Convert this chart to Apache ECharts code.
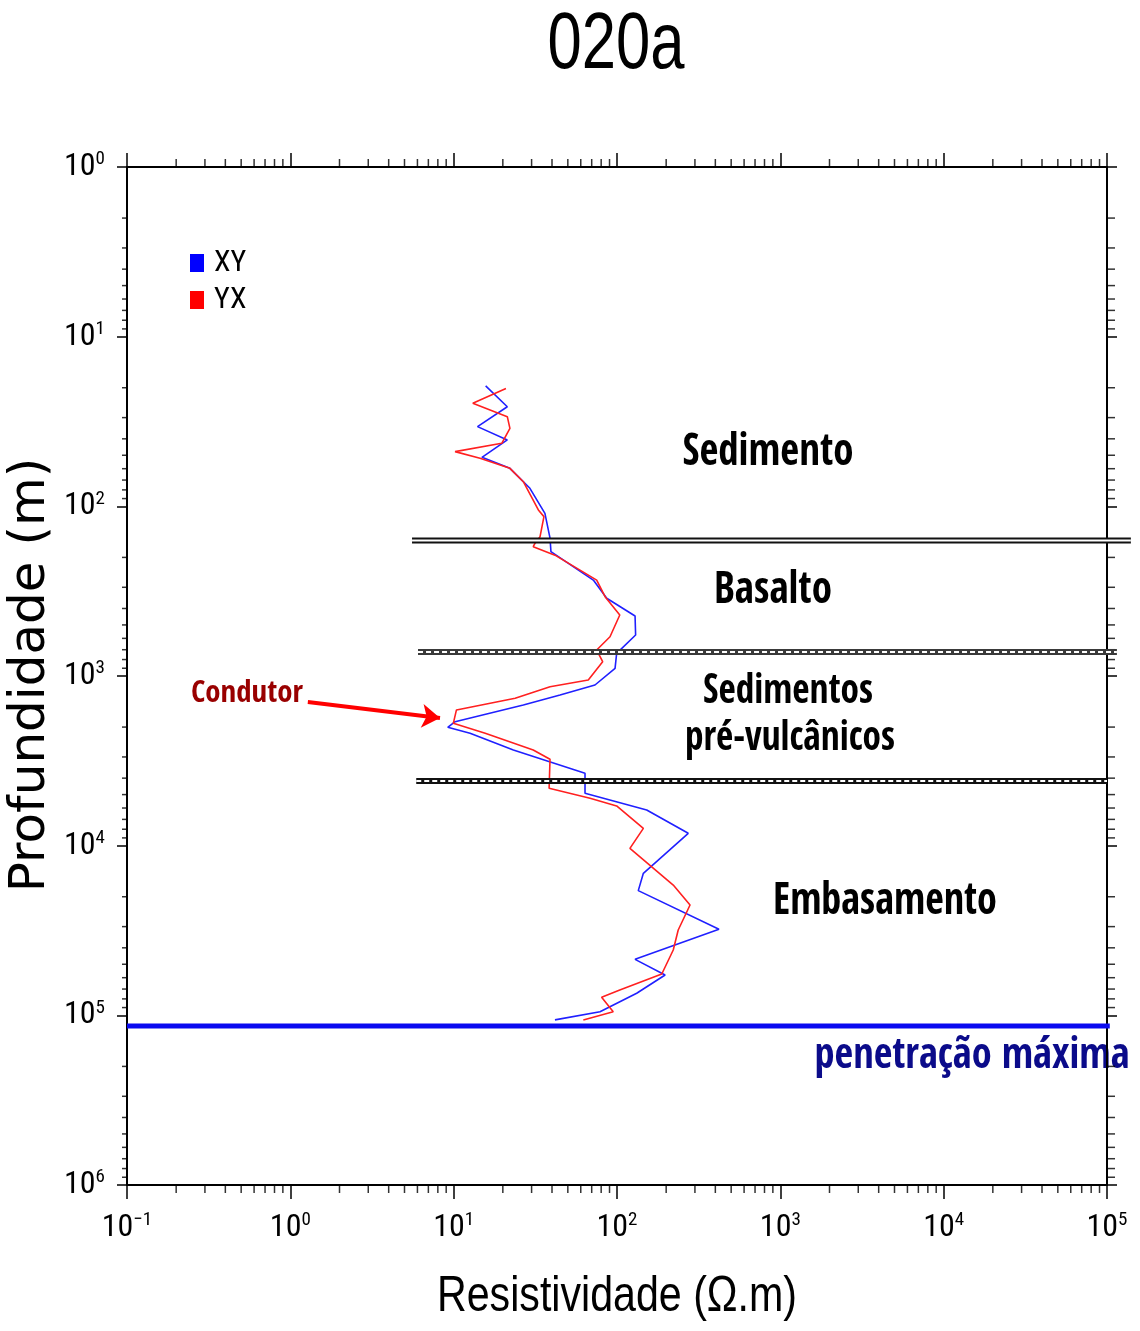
<!DOCTYPE html>
<html>
<head>
<meta charset="utf-8">
<script src="https://cdn.jsdelivr.net/npm/echarts@6/dist/echarts.min.js"></script>
<style>
html,body{margin:0;padding:0;background:#fff;}
#chart{width:1140px;height:1331px;}
</style>
</head>
<body>
<div id="chart"></div>
<script>
// ---------- DATA ----------
// XY curve: [resistivity (ohm.m), depth (m)]
const xyRes   = [15.7, 21.3, 14.0, 21.3, 14.9, 22.1, 29.3, 36.2, 38.9, 39.4, 71.6, 86.5, 129, 130, 99.5, 97.3, 73.3, 44.8, 26.7, 10.2, 9.2, 12.6, 23.2, 63.7, 63.7, 152, 273, 145, 135, 421, 129, 197, 132, 78.7, 41.7];
const xyDepth = [19.5, 25.9, 33.9, 40.6, 51.4, 59.7, 78.3, 110, 154, 185, 272, 348, 443, 573, 735, 901, 1130, 1294, 1482, 1859, 2006, 2177, 2730, 3745, 4913, 6166, 8453, 14550, 18410, 31120, 46770, 57810, 74130, 95270, 106400];
// YX curve
const yxRes   = [20.9, 13.1, 21.3, 22.1, 19.7, 10.2, 14.5, 22.1, 26.7, 33.0, 35.7, 33.8, 31.5, 30.7, 41.7, 75.1, 84.5, 104, 90.6, 75.1, 81.7, 66.7, 38.9, 23.8, 10.4, 9.95, 15.6, 30.7, 38.9, 38.4, 68.4, 99.5, 145, 120, 221, 280, 237, 221, 188, 104, 80.5, 94.8, 62.2];
const yxDepth = [20.2, 24.7, 29.6, 34.7, 42.5, 47.6, 52.1, 59.7, 71.6, 105, 115, 151, 165, 173, 194, 272, 341, 437, 587, 703, 824, 1056, 1156, 1353, 1585, 1901, 2177, 2730, 3097, 4592, 5260, 5834, 7907, 10370, 17060, 22380, 31410, 41200, 57050, 70950, 78310, 95270, 106400];

// Layer boundaries (depth, m) and their horizontal extent (ohm.m)
const boundaryDepths = [159, 722, 4157];
const boundaryStart  = [5.56, 6.05, 5.9];
const boundaryEnd    = [140000, 115000, 100000];
const boundaryKind   = [0, 1, 2];   // 0 = double line, 1/2 = dashed rail line
// Maximum penetration line
const penetrationDepth = 115600;
const penetrationRange = [0.1, 104000];
// Conductor arrow [resistivity, depth]
const arrowFrom = [1.28, 1423];
const arrowTo   = [8.25, 1769];

// Axes
const xMin = 0.1, xMax = 1e5;
const yMin = 1, yMax = 1e6;
const seriesNames = ['XY', 'YX'];

// ---------- CHART ----------
const SANS = '"Liberation Sans", Arial, Helvetica, sans-serif';
const COND = '"Roboto Condensed", "Liberation Sans", sans-serif';
const BOLDC = '"Open Sans Condensed", "DejaVu Sans Condensed", sans-serif';
const chart = echarts.init(document.getElementById('chart'), null, {renderer: 'canvas'});

function pow10Label(v) {
  const e = Math.round(Math.log10(v));
  const es = e < 0 ? '\u2212' + Math.abs(e) : String(e);
  return '{b|10}{s|' + es + '}';
}
const richLbl = {
  b: {fontSize: 32, fontFamily: COND, color: '#000'},
  s: {fontSize: 19, fontFamily: COND, color: '#000', padding: [0, 0, 15, 0]}
};

// minor tick positions
const minorX = [], minorY = [];
for (let k = -1; k < 5; k++) for (let m = 2; m <= 9; m++) minorX.push(m * Math.pow(10, k));
for (let k = 0; k < 6; k++) for (let m = 2; m <= 9; m++) minorY.push(m * Math.pow(10, k));

function tickSeries(data, size, offset) {
  return {
    type: 'scatter', silent: true, clip: false, symbol: 'rect',
    symbolSize: size, symbolOffset: offset,
    itemStyle: {color: '#000'}, data: data, z: 5, animation: false
  };
}

function zip(a, b) { return a.map((v, i) => [v, b[i]]); }

const series = [
  {
    name: seriesNames[0], type: 'line', data: zip(xyRes, xyDepth),
    showSymbol: false, symbol: 'none', lineStyle: {color: '#2020ff', width: 1.6},
    itemStyle: {color: '#0000ff'}, z: 3, animation: false
  },
  {
    name: seriesNames[1], type: 'line', data: zip(yxRes, yxDepth),
    showSymbol: false, symbol: 'none', lineStyle: {color: '#ff2020', width: 1.6},
    itemStyle: {color: '#ff0000'}, z: 3, animation: false
  }
];

// boundary lines (custom series, may extend past the right frame)
series.push({
  type: 'custom', silent: true, clip: false, animation: false, z: 6,
  data: boundaryDepths.map((d, i) => [boundaryStart[i], boundaryEnd[i], d, boundaryKind[i]]),
  renderItem: function (params, api) {
    const x1 = api.value(0), x2 = api.value(1), d = api.value(2), kind = api.value(3);
    const p1 = api.coord([x1, d]);
    const pa = api.coord([xMax / 10, d]), pb = api.coord([xMax, d]);
    const ex = x2 <= xMax ? api.coord([x2, d])[0] : pb[0] + (pb[0] - pa[0]) * Math.log10(x2 / xMax);
    const shape = {x1: p1[0], y1: p1[1], x2: ex, y2: p1[1]};
    return {
      type: 'group',
      children: [
        {type: 'line', shape: shape, style: {stroke: kind === 1 ? '#3a3a3a' : '#111', lineWidth: 6}},
        {type: 'line', shape: shape, style: {stroke: '#fff', lineWidth: kind === 0 ? 1.8 : 2, lineDash: kind === 0 ? null : [5, 3]}}
      ]
    };
  }
});

// penetration line
series.push({
  type: 'line', data: [[penetrationRange[0], penetrationDepth], [penetrationRange[1], penetrationDepth]],
  symbol: 'none', clip: false, silent: true, animation: false,
  lineStyle: {color: '#0a0af0', width: 5}, z: 6
});

// arrow
series.push({
  type: 'line', data: [], silent: true, animation: false,
  markLine: {
    silent: true, animation: false,
    symbol: ['none', 'arrow'], symbolSize: 18,
    label: {show: false},
    lineStyle: {color: '#ff0000', width: 4, type: 'solid'},
    data: [[{coord: arrowFrom}, {coord: arrowTo}]]
  }
});

// minor ticks
series.push(tickSeries(minorX.map(v => [v, yMax]), [1.5, 8], [0, 4]));
series.push(tickSeries(minorX.map(v => [v, yMin]), [1.5, 8], [0, -4]));
series.push(tickSeries(minorY.map(v => [xMin, v]), [5, 1.5], [-2.5, 0]));
series.push(tickSeries(minorY.map(v => [xMax, v]), [8, 1.5], [4, 0]));

const axisLineStyle = {show: true, lineStyle: {color: '#000', width: 2}};

// text with horizontal scale fitted to a target width
const measureCtx = document.createElement('canvas').getContext('2d');
function fitText(x, y, text, font, fill, width, extra) {
  measureCtx.font = font;
  const w = measureCtx.measureText(text).width || width;
  return Object.assign({
    type: 'text', x: x, y: y, scaleX: width / w, silent: true,
    style: {text: text, font: font, fill: fill, textAlign: 'center', textVerticalAlign: 'middle'}
  }, extra || {});
}

const option = {
  backgroundColor: '#fff',
  animation: false,
  grid: {left: 127, right: 33, top: 167, bottom: 146, containLabel: false},
  legend: {
    data: seriesNames, orient: 'vertical', left: 190, top: 248, padding: 0,
    icon: 'rect', itemWidth: 14, itemHeight: 18, itemGap: 7,
    textStyle: {fontSize: 30, fontFamily: COND, color: '#000', padding: [0, 0, 0, 5]},
    selectedMode: false
  },
  xAxis: [
    {
      type: 'log', logBase: 10, min: xMin, max: xMax, position: 'bottom',
      axisLine: axisLineStyle,
      axisTick: {show: true, length: 14, lineStyle: {color: '#000', width: 1.5}},
      axisLabel: {show: true, margin: 26, formatter: pow10Label, rich: richLbl},
      splitLine: {show: false}
    },
    {
      type: 'log', logBase: 10, min: xMin, max: xMax, position: 'top',
      axisLine: axisLineStyle,
      axisTick: {show: true, length: 14, lineStyle: {color: '#000', width: 1.5}},
      axisLabel: {show: false}, splitLine: {show: false}
    }
  ],
  yAxis: [
    {
      type: 'log', logBase: 10, min: yMin, max: yMax, inverse: true, position: 'left',
      axisLine: axisLineStyle,
      axisTick: {show: true, length: 10, lineStyle: {color: '#000', width: 1.5}},
      axisLabel: {show: true, margin: 22, formatter: pow10Label, rich: richLbl},
      splitLine: {show: false}
    },
    {
      type: 'log', logBase: 10, min: yMin, max: yMax, inverse: true, position: 'right',
      axisLine: axisLineStyle,
      axisTick: {show: true, length: 10, lineStyle: {color: '#000', width: 1.5}},
      axisLabel: {show: false}, splitLine: {show: false}
    }
  ],
  graphic: [
    fitText(616, 46, '020a', '80px ' + SANS, '#000', 137),
    fitText(617, 1297, 'Resistividade (\u03A9.m)', '50px ' + SANS, '#000', 360),
    {type: 'text', x: 31, y: 675, rotation: Math.PI / 2, silent: true,
     style: {text: 'Profundidade (m)', font: '50px "DejaVu Sans", sans-serif', fill: '#000', textAlign: 'center', textVerticalAlign: 'middle'}},
    fitText(768, 453, 'Sedimento', 'bold 45px ' + BOLDC, '#000', 171),
    fitText(773, 591, 'Basalto', 'bold 45px ' + BOLDC, '#000', 118),
    fitText(788, 692, 'Sedimentos', 'bold 42px ' + BOLDC, '#000', 170),
    fitText(790, 739, 'pré-vulcânicos', 'bold 42px ' + BOLDC, '#000', 210),
    fitText(885, 902, 'Embasamento', 'bold 45px ' + BOLDC, '#000', 224),
    fitText(972, 1057, 'penetração máxima', 'bold 43px ' + BOLDC, '#0b0b8a', 315),
    fitText(247, 694, 'Condutor', 'bold 30px ' + BOLDC, '#990000', 112)
  ],
  series: series
};

chart.setOption(option);
</script>
</body>
</html>
